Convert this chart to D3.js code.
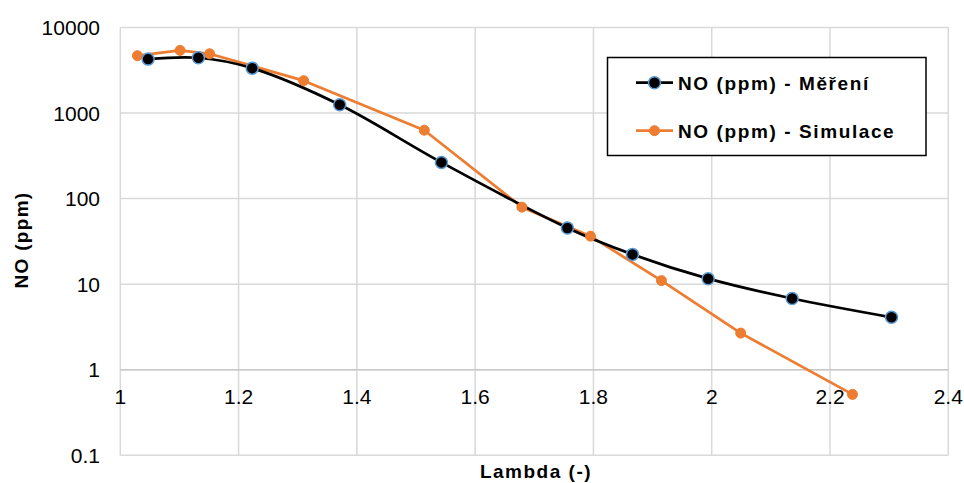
<!DOCTYPE html>
<html>
<head>
<meta charset="utf-8">
<script src="https://cdn.jsdelivr.net/npm/d3@7"></script>
<style>
  html, body { margin: 0; padding: 0; background: #fff; }
  svg { display: block; font-family: "Liberation Sans", Arial, sans-serif; }
</style>
</head>
<body>
<svg id="chart" width="964" height="483"></svg>
<script>
// Measured NO concentration vs. lambda
const lambdaMereni = [1.047, 1.132, 1.223, 1.371, 1.543, 1.756, 1.866, 1.994, 2.136, 2.304];
const noMereni     = [4270, 4430, 3350, 1250, 265, 45.4, 22.3, 11.6, 6.8, 4.1];

// Simulated NO concentration vs. lambda
const lambdaSimulace = [1.029, 1.101, 1.151, 1.310, 1.514, 1.679, 1.795, 1.915, 2.049, 2.238];
const noSimulace     = [4680, 5400, 4930, 2390, 630, 79.5, 36.4, 11.0, 2.68, 0.515];

const xTicks = [1, 1.2, 1.4, 1.6, 1.8, 2, 2.2, 2.4];
const yTicks = [0.1, 1, 10, 100, 1000, 10000];

const seriesNames = ["NO (ppm) - Měření", "NO (ppm) - Simulace"];
const xTitle = "Lambda (-)";
const yTitle = "NO (ppm)";

const svg = d3.select("#chart");
const plotLeft = 120.3, plotRight = 948.3, plotTop = 27.5, plotBottom = 455.3;

const x = d3.scaleLinear().domain([1, 2.4]).range([plotLeft, plotRight]);
const y = d3.scaleLog().domain([0.1, 10000]).range([plotBottom, plotTop]);

const grid = "#d9d9d9";

// Grid lines
svg.append("g").selectAll("line").data(yTicks).join("line")
  .attr("x1", plotLeft).attr("x2", plotRight)
  .attr("y1", d => y(d)).attr("y2", d => y(d))
  .attr("stroke", grid).attr("stroke-width", 1.5);
svg.append("g").selectAll("line").data(xTicks).join("line")
  .attr("x1", d => x(d)).attr("x2", d => x(d))
  .attr("y1", plotTop).attr("y2", plotBottom)
  .attr("stroke", grid).attr("stroke-width", 1.5);

// Horizontal axis crosses at NO = 1
svg.append("line")
  .attr("x1", plotLeft).attr("x2", plotRight)
  .attr("y1", y(1)).attr("y2", y(1))
  .attr("stroke", "#c8c8c8").attr("stroke-width", 1.5);

// Y tick labels
svg.append("g").selectAll("text").data(yTicks).join("text")
  .attr("x", 100).attr("y", d => y(d))
  .attr("dy", "0.36em")
  .attr("text-anchor", "end")
  .attr("font-size", 21).attr("fill", "#000")
  .text(d => String(d));

// X tick labels, placed under the axis at NO = 1
svg.append("g").selectAll("text").data(xTicks).join("text")
  .attr("x", d => x(d)).attr("y", y(1) + 34.5)
  .attr("text-anchor", "middle")
  .attr("font-size", 21).attr("fill", "#000")
  .text(d => String(d));

// Axis titles
svg.append("text")
  .attr("x", 536).attr("y", 477.5)
  .attr("text-anchor", "middle")
  .attr("font-size", 19).attr("font-weight", "bold")
  .attr("letter-spacing", 1.5)
  .text(xTitle);
svg.append("text")
  .attr("transform", "translate(27.5,240) rotate(-90)")
  .attr("text-anchor", "middle")
  .attr("font-size", 19).attr("font-weight", "bold")
  .attr("letter-spacing", 1.3)
  .text(yTitle);

const orange = "#ed7d31";
const blue = "#5b9bd5";

const mereni = lambdaMereni.map((l, i) => [l, noMereni[i]]);
const simulace = lambdaSimulace.map((l, i) => [l, noSimulace[i]]);

// Simulation: straight segments
svg.append("path")
  .datum(simulace)
  .attr("fill", "none").attr("stroke", orange).attr("stroke-width", 2.75)
  .attr("stroke-linejoin", "round")
  .attr("d", d3.line().x(d => x(d[0])).y(d => y(d[1])));

// Measurement: smoothed line
svg.append("path")
  .datum(mereni)
  .attr("fill", "none").attr("stroke", "#000").attr("stroke-width", 2.75)
  .attr("d", d3.line().curve(d3.curveCatmullRom.alpha(0.5)).x(d => x(d[0])).y(d => y(d[1])));

svg.append("g").selectAll("circle").data(simulace).join("circle")
  .attr("cx", d => x(d[0])).attr("cy", d => y(d[1])).attr("r", 5)
  .attr("fill", orange).attr("stroke", orange).attr("stroke-width", 1);

svg.append("g").selectAll("circle").data(mereni).join("circle")
  .attr("cx", d => x(d[0])).attr("cy", d => y(d[1])).attr("r", 6)
  .attr("fill", "#000").attr("stroke", blue).attr("stroke-width", 1.5);

// Legend
const lg = svg.append("g");
lg.append("rect")
  .attr("x", 607.5).attr("y", 57.5).attr("width", 318.5).attr("height", 98)
  .attr("fill", "#fff").attr("stroke", "#000").attr("stroke-width", 1.5);

const rows = [
  { name: seriesNames[0], line: "#000", fill: "#000", stroke: blue, r: 6, sw: 1.5, cy: 82.7 },
  { name: seriesNames[1], line: orange, fill: orange, stroke: orange, r: 5, sw: 1, cy: 130.7 }
];
rows.forEach(r => {
  lg.append("line").attr("x1", 636).attr("x2", 673).attr("y1", r.cy).attr("y2", r.cy)
    .attr("stroke", r.line).attr("stroke-width", 2.75);
  lg.append("circle").attr("cx", 654.5).attr("cy", r.cy).attr("r", r.r)
    .attr("fill", r.fill).attr("stroke", r.stroke).attr("stroke-width", r.sw);
  lg.append("text").attr("x", 678).attr("y", r.cy).attr("dy", "0.36em")
    .attr("font-size", 19).attr("font-weight", "bold").attr("letter-spacing", 1.6)
    .text(r.name);
});
</script>
</body>
</html>
